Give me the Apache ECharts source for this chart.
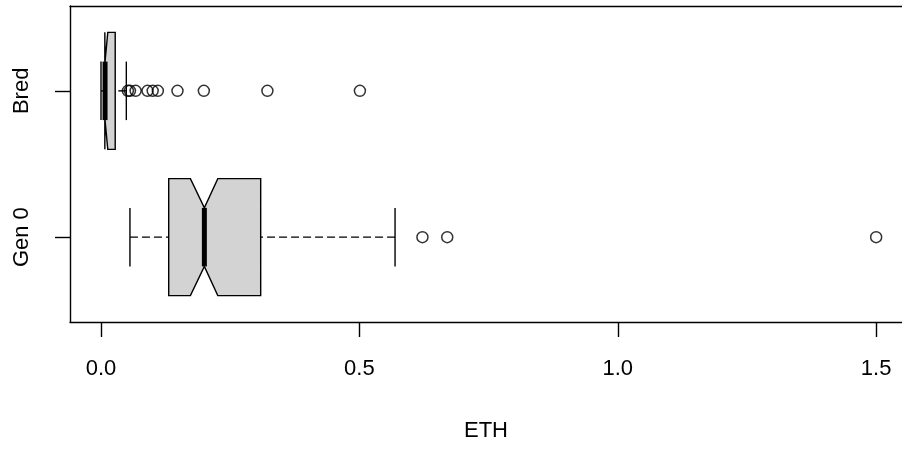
<!DOCTYPE html>
<html>
<head>
<meta charset="utf-8">
<script src="https://cdn.jsdelivr.net/npm/echarts@6/dist/echarts.min.js"></script>
<style>html,body{margin:0;padding:0;background:#fff;}#c{width:902px;height:454px;}</style>
</head>
<body>
<div id="c"></div>
<script>
// ---- data ----
const categories = ['Gen 0', 'Bred'];
const whiskerLow  = [0.056, 0.000];
const q1          = [0.131, 0.0074];
const median      = [0.200, 0.0078];
const q3          = [0.309, 0.0275];
const whiskerHigh = [0.569, 0.049];
const notchLow    = [0.173, 0.0074];
const notchHigh   = [0.226, 0.0131];
const outliersGen0 = [0.622, 0.670, 1.500];
const outliersBred = [0.052, 0.056, 0.067, 0.090, 0.100, 0.110, 0.148, 0.199, 0.322, 0.501];
const xTicks = [0, 0.5, 1.0, 1.5];
const xTickLabels = ['0.0', '0.5', '1.0', '1.5'];
const xTitle = 'ETH';

// ---- build ----
const boxData = categories.map((c, i) => [i + 1, whiskerLow[i], q1[i], median[i], q3[i], whiskerHigh[i], notchLow[i], notchHigh[i]]);
const outlierData = [];
outliersGen0.forEach(v => outlierData.push([v, 1]));
outliersBred.forEach(v => outlierData.push([v, 2]));

const BOX_HALF = 0.4, STAPLE_HALF = 0.2, NOTCH_HALF = 0.2;
const FONT = '"Liberation Sans", Arial, sans-serif';
const LW = 1.4;
const X_MIN = -0.06, X_MAX = 1.55;

function renderBox(params, api) {
  const y = api.value(0);
  const lo = api.value(1), b1 = api.value(2), md = api.value(3), b3 = api.value(4), hi = api.value(5), c1 = api.value(6), c2 = api.value(7);
  const P = (v, dy) => api.coord([v, y + dy]);
  const line = (a, b, extra) => ({
    type: 'line',
    shape: { x1: a[0], y1: a[1], x2: b[0], y2: b[1] },
    style: Object.assign({ stroke: '#000', lineWidth: LW }, extra || {})
  });
  const dashed = { lineDash: [8, 4] };
  const poly = [P(b1,-BOX_HALF),P(c1,-BOX_HALF),P(md,-NOTCH_HALF),P(c2,-BOX_HALF),P(b3,-BOX_HALF),
                P(b3,BOX_HALF),P(c2,BOX_HALF),P(md,NOTCH_HALF),P(c1,BOX_HALF),P(b1,BOX_HALF)];
  return {
    type: 'group',
    children: [
      line(P(lo,0), P(b1,0), dashed),
      line(P(hi,0), P(b3,0), dashed),
      line(P(lo,-STAPLE_HALF), P(lo,STAPLE_HALF)),
      line(P(hi,-STAPLE_HALF), P(hi,STAPLE_HALF)),
      { type: 'polygon', shape: { points: poly }, style: { fill: '#D3D3D3', stroke: '#000', lineWidth: LW, lineJoin: 'miter' } },
      line(P(md,-NOTCH_HALF), P(md,NOTCH_HALF), { lineWidth: 5 })
    ]
  };
}

const chart = echarts.init(document.getElementById('c'), null, { renderer: 'canvas' });
chart.setOption({
  animation: false,
  backgroundColor: '#fff',
  grid: { left: 70, top: 6, width: 832, height: 316, show: false },
  xAxis: [{
    type: 'value', min: X_MIN, max: X_MAX,
    splitLine: { show: false },
    axisLine: { show: true, onZero: false, lineStyle: { color: '#000', width: LW } },
    axisTick: { show: true, length: 15, customValues: xTicks, lineStyle: { color: '#000', width: LW } },
    axisLabel: { customValues: xTicks, formatter: v => xTickLabels[xTicks.indexOf(v)] ?? '', color: '#000', fontFamily: FONT, fontSize: 22, margin: 36 },
    name: xTitle, nameLocation: 'middle', nameGap: 98,
    nameTextStyle: { color: '#000', fontFamily: FONT, fontSize: 22, verticalAlign: 'top' }
  }, {
    type: 'value', min: X_MIN, max: X_MAX, position: 'top',
    splitLine: { show: false }, axisTick: { show: false }, axisLabel: { show: false },
    axisLine: { show: true, onZero: false, lineStyle: { color: '#000', width: LW } }
  }],
  yAxis: {
    type: 'value', min: 0.42, max: 2.58,
    splitLine: { show: false },
    axisLine: { show: true, onZero: false, lineStyle: { color: '#000', width: LW } },
    axisTick: { show: true, length: 15, customValues: [1, 2], lineStyle: { color: '#000', width: LW } },
    axisLabel: { customValues: [1, 2], formatter: v => categories[Math.round(v) - 1] ?? '', rotate: 90, color: '#000', fontFamily: FONT, fontSize: 22, margin: 37 }
  },
  series: [
    { type: 'custom', renderItem: renderBox, data: boxData, encode: { x: [1,2,3,4,5,6,7], y: 0 }, clip: false, z: 2 },
    { type: 'scatter', data: outlierData, symbol: 'circle', symbolSize: 11,
      itemStyle: { color: 'rgba(255,255,255,0)', borderColor: '#000', borderWidth: 1.5 }, z: 3 }
  ]
});
</script>
</body>
</html>
